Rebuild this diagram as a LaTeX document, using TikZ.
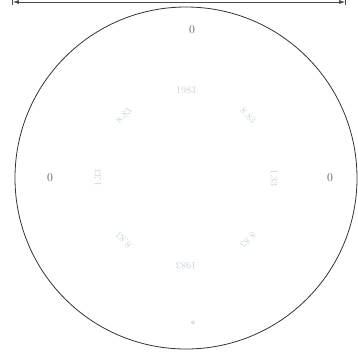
\documentclass[tikz,border=0pt]{standalone}
\usetikzlibrary{arrows.meta}
\definecolor{faint}{RGB}{196,208,220}
\begin{document}
\begin{tikzpicture}[
  x=1pt,
  y=-1pt,
  >={Latex[length=6pt,width=4pt]},
  zero/.style={text=black!65, font=\large, inner sep=1pt},
  ringlabel/.style={text=faint, font=\normalsize, inner sep=0pt}
]
\useasboundingbox (0,0) rectangle (358,354);
\coordinate (span left) at (12,2);
\coordinate (span right) at (346,2);
\coordinate (centre) at (186,178);
\draw[black!70, line width=0.8pt, |<->|] (span left) -- (span right);
\draw[black!80, line width=0.8pt] (centre) circle[radius=171pt];
\node[zero] (zero top) at (192,30) {0};
\node[zero] (zero left) at (50,178) {0};
\node[zero] (zero right) at (330,178) {0};
\node[zero, text=black!45, font=\tiny] (zero bottom) at (193,323) {0};
\foreach \ang/\txt [count=\i] in {90/1983, 45/8.83, 0/1.33, -45/8.83,
  -90/1983, -135/8.83, 180/1.33, 135/8.83}
  \node[ringlabel, rotate=\ang-90] (ring \i)
    at ({186+88*cos(\ang)},{178-88*sin(\ang)}) {\txt};
\end{tikzpicture}
\end{document}
